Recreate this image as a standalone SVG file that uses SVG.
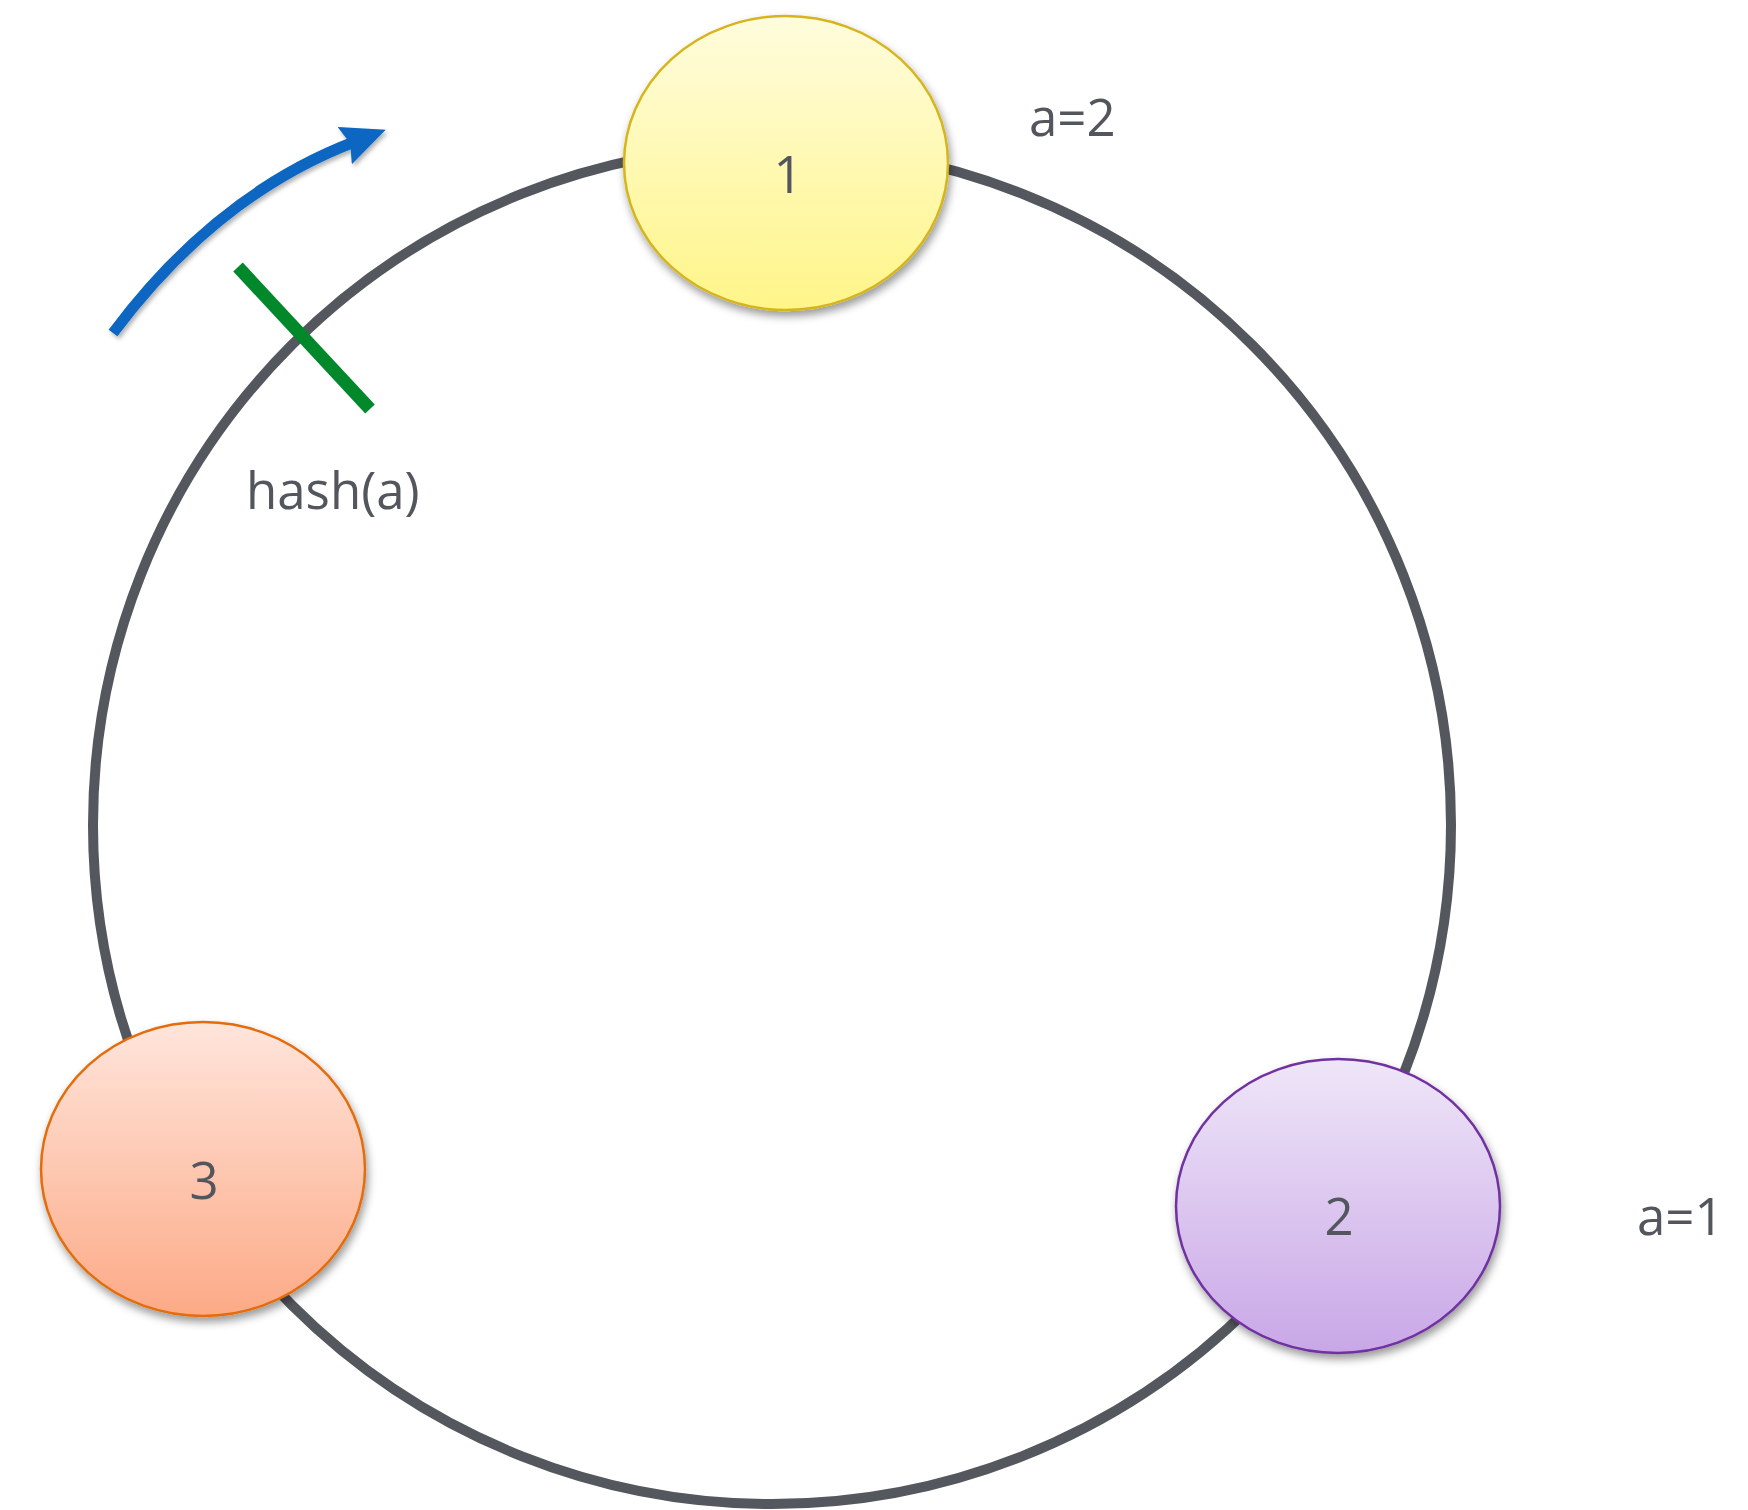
<svg xmlns="http://www.w3.org/2000/svg" width="1748" height="1510" viewBox="0 0 1748 1510">
<style>
.t{font-family:"Open Sans","Noto Sans","Liberation Sans",sans-serif;font-size:51px;fill:#53565C}
.c{text-anchor:middle}
.node{stroke-width:2.5}
</style>
<defs>
<linearGradient id="g1" x1="0" y1="0" x2="0" y2="1"><stop offset="0" stop-color="#FFFCDD"/><stop offset="1" stop-color="#FFF589"/></linearGradient>
<linearGradient id="g2" x1="0" y1="0" x2="0" y2="1"><stop offset="0" stop-color="#EFE6F8"/><stop offset="1" stop-color="#C9A7E7"/></linearGradient>
<linearGradient id="g3" x1="0" y1="0" x2="0" y2="1"><stop offset="0" stop-color="#FFE5DC"/><stop offset="1" stop-color="#FCAA86"/></linearGradient>
<filter id="sh" x="-20%" y="-20%" width="140%" height="150%"><feDropShadow dx="2" dy="5" stdDeviation="4" flood-color="#000" flood-opacity="0.4"/></filter>
<filter id="sh2" x="-20%" y="-20%" width="140%" height="140%"><feDropShadow dx="2" dy="3" stdDeviation="2" flood-color="#000" flood-opacity="0.3"/></filter>
<marker id="ah" markerUnits="userSpaceOnUse" viewBox="0 0 44 40" refX="10" refY="20" markerWidth="44" markerHeight="40" orient="auto"><path d="M0,0 L44,20 L0,40 L6,20 Z" fill="#0866C2"/></marker>
</defs>
<g id="connectors">
<circle id="ring" cx="772" cy="825" r="679" fill="none" stroke="#54575D" stroke-width="10"/>
<path id="direction-arrow" d="M113,333 Q216,195 354,142" fill="none" stroke="#0866C2" stroke-width="11" marker-end="url(#ah)" filter="url(#sh2)"/>
<line id="hash-mark" x1="238" y1="267" x2="370" y2="409" stroke="#00882B" stroke-width="13"/>
</g>
<g id="node1">
<ellipse class="node" cx="786" cy="163" rx="162" ry="147" fill="url(#g1)" stroke="#D6B51F" filter="url(#sh)"/>
<text class="t c" x="788" y="193">1</text>
</g>
<g id="node2">
<ellipse class="node" cx="1338" cy="1206" rx="162" ry="147" fill="url(#g2)" stroke="#7030A0" filter="url(#sh)"/>
<text class="t c" x="1339" y="1235">2</text>
</g>
<g id="node3">
<ellipse class="node" cx="203" cy="1169" rx="162" ry="147" fill="url(#g3)" stroke="#E46C0A" filter="url(#sh)"/>
<text class="t c" x="204" y="1199">3</text>
</g>
<g id="labels">
<text class="t" x="1029" y="136">a=2</text>
<text class="t" x="1637" y="1235">a=1</text>
<text class="t" x="246" y="509">hash(a)</text>
</g>
</svg>
